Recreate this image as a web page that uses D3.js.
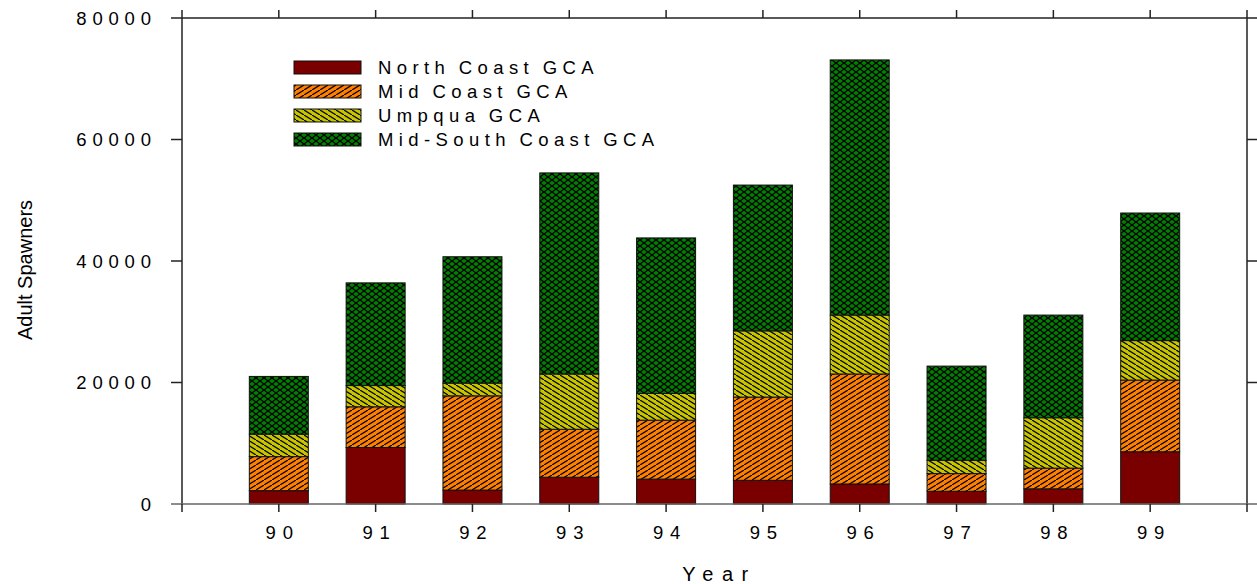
<!DOCTYPE html>
<html>
<head>
<meta charset="utf-8">
<script src="https://cdn.jsdelivr.net/npm/d3@7"></script>
<style>
  html, body { margin: 0; padding: 0; background: #fff; }
  svg { display: block; font-family: "Liberation Sans", Arial, sans-serif; }
</style>
</head>
<body>
<svg id="chart" width="1257" height="584"></svg>
<script>
// ---- data ----
const years = [90, 91, 92, 93, 94, 95, 96, 97, 98, 99];
const northCoast = [2200, 9300, 2300, 4400, 4100, 3900, 3300, 2100, 2500, 8600];
const midCoast = [5600, 6700, 15500, 7900, 9700, 13700, 18100, 2900, 3400, 11800];
const umpqua = [3700, 3500, 2100, 9100, 4400, 10900, 9700, 2200, 8300, 6500];
const midSouthCoast = [9500, 16900, 20800, 33100, 25600, 24000, 42000, 15500, 16900, 21000];
const seriesNames = ["North Coast GCA", "Mid Coast GCA", "Umpqua GCA", "Mid-South Coast GCA"];
const yTicks = [0, 20000, 40000, 60000, 80000];
const xTicks = [89, 90, 91, 92, 93, 94, 95, 96, 97, 98, 99, 100];

const svg = d3.select("#chart");
const pL = 182, pR = 1247, pT = 18, pB = 504;
const x = d3.scaleLinear().domain([89, 100]).range([pL, pR]);
const y = d3.scaleLinear().domain([0, 80000]).range([pB, pT]);

// patterns
const defs = svg.append("defs");
const fills = ["#7a0000", "#ff8000", "#c8c400", "#008000"];
function pat(id, bg, draw) {
  const p = defs.append("pattern").attr("id", id).attr("patternUnits", "userSpaceOnUse")
    .attr("width", 8).attr("height", 5);
  p.append("rect").attr("width", 8).attr("height", 5).attr("fill", bg);
  draw(p);
}
pat("p1", fills[1], p => {
  p.append("path").attr("d", "M-1,5.6 L9,-0.6").attr("stroke", "#000").attr("stroke-width", 1.2);
});
pat("p2", fills[2], p => {
  p.append("path").attr("d", "M-1,-0.6 L9,5.6").attr("stroke", "#000").attr("stroke-width", 1.2);
});
{
  const p = defs.append("pattern").attr("id", "p3").attr("patternUnits", "userSpaceOnUse")
    .attr("width", 8).attr("height", 6);
  p.append("rect").attr("width", 8).attr("height", 6).attr("fill", fills[3]);
  p.append("path").attr("d", "M-1,-0.75 L9,6.75 M-1,6.75 L9,-0.75").attr("stroke", "#000").attr("stroke-width", 1.3);
}
const fillRefs = [fills[0], "url(#p1)", "url(#p2)", "url(#p3)"];

// stacked bars
const rows = years.map((yr, i) => ({ year: yr, s0: northCoast[i], s1: midCoast[i], s2: umpqua[i], s3: midSouthCoast[i] }));
const stack = d3.stack().keys(["s0", "s1", "s2", "s3"])(rows);
const barW = 59;
stack.forEach((layer, li) => {
  svg.append("g").selectAll("rect").data(layer).join("rect")
    .attr("x", d => x(d.data.year) - barW / 2)
    .attr("width", barW)
    .attr("y", d => y(d[1]))
    .attr("height", d => y(d[0]) - y(d[1]))
    .attr("fill", fillRefs[li])
    .attr("stroke", "#111")
    .attr("stroke-width", 1);
});

// frame
const ax = svg.append("g").attr("stroke", "#222").attr("stroke-width", 1.5).attr("fill", "none");
ax.append("line").attr("x1", pL).attr("x2", pL).attr("y1", pT).attr("y2", pB);
ax.append("line").attr("x1", pR).attr("x2", pR).attr("y1", pT).attr("y2", pB);
ax.append("line").attr("x1", pL).attr("x2", pR).attr("y1", pT).attr("y2", pT);
ax.append("line").attr("x1", pL).attr("x2", pR).attr("y1", pB).attr("y2", pB).attr("stroke", "#666");

// y ticks (left outward, right outward)
yTicks.forEach(t => {
  ax.append("line").attr("x1", pL - 11).attr("x2", pL).attr("y1", y(t)).attr("y2", y(t)).attr("stroke", t === 0 ? "#666" : "#222");
  ax.append("line").attr("x1", pR).attr("x2", pR + 11).attr("y1", y(t)).attr("y2", y(t)).attr("stroke", t === 0 ? "#666" : "#222");
});
// x ticks (bottom down, top up)
xTicks.forEach(t => {
  ax.append("line").attr("x1", x(t)).attr("x2", x(t)).attr("y1", pB).attr("y2", pB + 8);
  ax.append("line").attr("x1", x(t)).attr("x2", x(t)).attr("y1", pT - 8).attr("y2", pT);
});

const ls = 5.8;
svg.append("g").selectAll("text").data(yTicks).join("text")
  .attr("x", 151 + ls).attr("y", d => y(d) + 6.5)
  .attr("text-anchor", "end").attr("font-size", 18.5).attr("letter-spacing", ls)
  .attr("fill", "#000").text(d => d);

svg.append("g").selectAll("text").data(years).join("text")
  .attr("x", d => x(d) + ls / 2 + 1).attr("y", 539)
  .attr("text-anchor", "middle").attr("font-size", 18.5).attr("letter-spacing", ls + 1)
  .attr("fill", "#000").text(d => d);

svg.append("text").attr("x", (pL + pR) / 2 + 5).attr("y", 581)
  .attr("text-anchor", "middle").attr("font-size", 20).attr("letter-spacing", 8.5)
  .text("Year");

svg.append("text").attr("transform", "translate(32,270) rotate(-90)")
  .attr("text-anchor", "middle").attr("font-size", 20)
  .text("Adult Spawners");

// legend
const lg = svg.append("g");
seriesNames.forEach((name, i) => {
  const cy = 67.5 + i * 24;
  lg.append("rect").attr("x", 294).attr("y", cy - 6.5).attr("width", 67).attr("height", 13)
    .attr("fill", fillRefs[i]).attr("stroke", "#111").attr("stroke-width", 1);
  lg.append("text").attr("x", 378).attr("y", cy + 6.5).attr("font-size", 18.5)
    .attr("letter-spacing", 5.4).attr("word-spacing", -2).text(name);
});
</script>
</body>
</html>
